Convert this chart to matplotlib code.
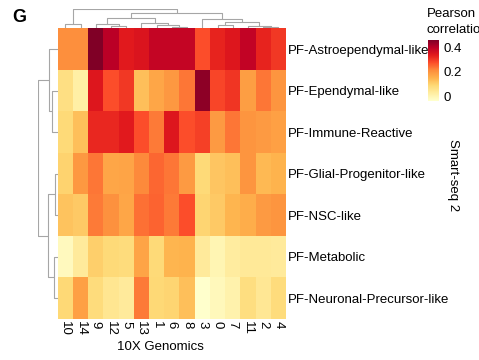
import matplotlib
matplotlib.use("Agg")
import matplotlib.pyplot as plt
import numpy as np

plt.rcParams['font.family'] = ['Liberation Sans', 'DejaVu Sans']

col_labels = ["10", "14", "9", "12", "5", "13", "1", "6", "8", "3", "0", "7", "11", "2", "4"]
row_labels = ["PF-Astroependymal-like", "PF-Ependymal-like", "PF-Immune-Reactive",
              "PF-Glial-Progenitor-like", "PF-NSC-like", "PF-Metabolic",
              "PF-Neuronal-Precursor-like"]

astro     = [0.21, 0.21, 0.46, 0.40, 0.34, 0.35, 0.385, 0.385, 0.385, 0.275, 0.325, 0.345, 0.39, 0.325, 0.30]
ependymal = [0.07, 0.02, 0.345, 0.275, 0.30, 0.13, 0.17, 0.195, 0.235, 0.445, 0.285, 0.305, 0.185, 0.235, 0.20]
immune    = [0.085, 0.13, 0.32, 0.32, 0.34, 0.275, 0.23, 0.345, 0.275, 0.29, 0.19, 0.235, 0.20, 0.19, 0.18]
glial     = [0.10, 0.195, 0.235, 0.17, 0.175, 0.215, 0.25, 0.235, 0.19, 0.085, 0.12, 0.13, 0.20, 0.14, 0.15]
nsc       = [0.125, 0.115, 0.23, 0.205, 0.17, 0.24, 0.255, 0.23, 0.275, 0.095, 0.115, 0.145, 0.16, 0.19, 0.20]
metabolic = [-0.015, 0.035, 0.105, 0.085, 0.08, 0.175, 0.085, 0.145, 0.15, 0.035, 0.0, 0.03, 0.04, 0.04, 0.035]
neuronal  = [0.09, 0.18, 0.08, 0.05, 0.035, 0.23, 0.09, 0.095, 0.13, -0.035, -0.01, 0.01, 0.075, 0.045, 0.08]

values = np.array([astro, ependymal, immune, glial, nsc, metabolic, neuronal])

# merges: (left, right, height); int = earlier merge index
col_merges = [("12", "5", 0.12), ("9", 0, 0.23), ("6", "8", 0.08), ("1", 2, 0.17),
              ("13", 3, 0.26), (1, 4, 0.53), ("10", "14", 0.23),
              ("0", "7", 0.15), ("2", "4", 0.05), ("11", 8, 0.12), (7, 9, 0.32),
              ("3", 10, 0.49), (5, 11, 0.82), (6, 12, 1.0)]
row_merges = [(row_labels[1], row_labels[2], 0.27), (row_labels[0], 0, 0.43),
              (row_labels[3], row_labels[4], 0.12), (row_labels[5], row_labels[6], 0.20),
              (2, 3, 0.51), (1, 4, 1.0)]

W, H = 479, 360
fig = plt.figure(figsize=(W / 100, H / 100), dpi=100)


def px_axes(x0, y0, x1, y1):
    return fig.add_axes([x0 / W, 1 - y1 / H, (x1 - x0) / W, (y1 - y0) / H])


def draw_tree(ax, leaves, merges, top=True):
    pos = {name: i + 0.5 for i, name in enumerate(leaves)}
    hgt = {name: 0.0 for name in leaves}
    for k, (a, b, h) in enumerate(merges):
        xa, xb, ha, hb = pos[a], pos[b], hgt[a], hgt[b]
        xs, ys = [xa, xa, xb, xb], [ha, h, h, hb]
        if top:
            ax.plot(xs, ys, color='#a6a6a6', lw=0.8, solid_capstyle='butt')
        else:
            ax.plot(ys, xs, color='#a6a6a6', lw=0.8, solid_capstyle='butt')
        pos[k] = (xa + xb) / 2
        hgt[k] = h
    ax.set_axis_off()


vmin, vmax = values.min(), values.max()

ax = px_axes(57.7, 28.3, 286, 318.8)
mesh = ax.pcolormesh(values, cmap='YlOrRd', vmin=vmin, vmax=vmax)
ax.set_xlim(0, len(col_labels))
ax.set_ylim(len(row_labels), 0)
ax.set_xticks(np.arange(len(col_labels)) + 0.5)
ax.set_xticklabels(col_labels, rotation=270, fontsize=9.5)
ax.set_yticks(np.arange(len(row_labels)) + 0.5)
ax.set_yticklabels(row_labels, fontsize=9.5)
ax.yaxis.tick_right()
ax.tick_params(length=0, pad=1.5)
for s in ax.spines.values():
    s.set_visible(False)

axt = px_axes(57.7, 9.3, 286, 28.3)
draw_tree(axt, col_labels, col_merges, top=True)
axt.set_xlim(0, len(col_labels))
axt.set_ylim(0, 1.0)

axl = px_axes(38, 28.3, 57.7, 318.8)
draw_tree(axl, row_labels, row_merges, top=False)
axl.set_ylim(len(row_labels), 0)
axl.set_xlim(1.0, 0)

cax = px_axes(427.7, 40, 439, 100.7)
cb = fig.colorbar(mesh, cax=cax, ticks=[0, 0.2, 0.4])
cb.set_ticklabels(["0", "0.2", "0.4"])
cb.outline.set_visible(False)
cax.tick_params(length=0, labelsize=9.5, pad=3)

fig.text(426.5 / W, 1 - 14 / H, "Pearson", fontsize=9.5, ha='left', va='center')
fig.text(426.5 / W, 1 - 30 / H, "correlation", fontsize=9.5, ha='left', va='center')
fig.text(453 / W, 1 - 175 / H, "Smart-seq 2", fontsize=9.5, rotation=270, ha='center', va='center')
fig.text(160 / W, 1 - 347 / H, "10X Genomics", fontsize=9.5, ha='center', va='center')
fig.text(12 / W, 1 - 17 / H, "G", fontsize=13, fontweight='bold', ha='left', va='center')

fig.savefig("out.png", dpi=100)
